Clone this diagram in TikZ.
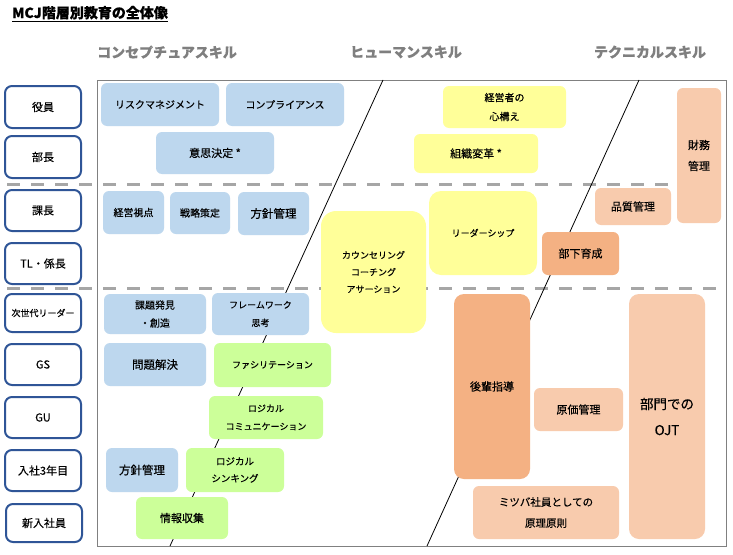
\documentclass[tikz,border=0pt]{standalone}
\usepackage{fontspec}
\setmainfont{Noto Sans CJK JP}[FakeBold=0.35]
\definecolor{cblue}{HTML}{BDD7EE}
\definecolor{cyel}{HTML}{FFFF99}
\definecolor{cgrn}{HTML}{CCFF99}
\definecolor{cpch}{HTML}{F8CBAD}
\definecolor{corg}{HTML}{F4B183}
\definecolor{lblblue}{HTML}{2F5597}
\definecolor{hdgray}{HTML}{7F7F7F}
\definecolor{dashgray}{HTML}{A6A6A6}
\definecolor{framegray}{HTML}{808080}
\tikzset{
  fs/.style 2 args={font=\fontsize{#1}{#2}\selectfont},
  bxbase/.style={rounded corners=6pt, align=center, inner sep=0pt, text=black},
  bblue/.style={bxbase, fill=cblue},
  bgrn/.style={bxbase, fill=cgrn},
  byel/.style={bxbase, fill=cyel},
  bpch/.style={bxbase, fill=cpch},
  borg/.style={bxbase, fill=corg},
  lbl/.style={draw=lblblue, line width=2pt, rounded corners=7pt, fill=white, align=center, inner sep=0pt, text=black},
  hdr/.style={text=hdgray, font=\fontsize{14}{16}\selectfont\bfseries, inner sep=0pt},
  sepline/.style={draw=dashgray, line width=3pt, dash pattern=on 13pt off 11pt},
  diag/.style={draw=black, line width=0.8pt},
}
\newcommand\mybox[7]{\node[#2, minimum width={(#5-#3)*1pt}, minimum height={(#6-#4)*1pt}] (#1) at ({(#3+#5)/2},{(#4+#6)/2}) {#7};}
\begin{document}
\begin{tikzpicture}[x=1pt,y=-1pt]
\useasboundingbox (0,0) rectangle (733,554);
\fill[white] (0,0) rectangle (733,554);
% title
\node[anchor=base west, inner sep=0pt, font=\fontsize{14}{16}\selectfont\bfseries] (title) at (12,18) {\underline{MCJ階層別教育の全体像}};
% headers
\node[hdr] (h1) at (167,52) {コンセプチュアスキル};
\node[hdr] (h2) at (406,52) {ヒューマンスキル};
\node[hdr] (h3) at (650,52) {テクニカルスキル};
% frame
\draw[framegray, line width=1pt] (97,80) rectangle (726,546);
% dashed separators
\coordinate (s1l) at (7,184); \coordinate (s1r) at (720,184);
\coordinate (s2l) at (7,288); \coordinate (s2r) at (720,288);
\draw[sepline] (s1l) -- (s1r);
\draw[sepline] (s2l) -- (s2r);
% diagonals
\coordinate (d1t) at (383,80); \coordinate (d1b) at (170,546);
\coordinate (d2t) at (639,80); \coordinate (d2b) at (427,546);
\draw[diag] (d1t) -- (d1b);
\draw[diag] (d2t) -- (d2b);
% level labels
\mybox{l1}{lbl, fs={11}{13}}{5}{86}{81}{128}{役員}
\mybox{l2}{lbl, fs={11}{13}}{5}{136}{81}{178}{部長}
\mybox{l3}{lbl, fs={11}{13}}{5}{190}{81}{231}{課長}
\mybox{l4}{lbl, fs={11}{13}}{5}{243}{81}{284}{TL・係長}
\mybox{l5}{lbl, fs={9}{11}}{5}{294}{81}{332}{次世代リーダー}
\mybox{l6}{lbl, fs={11}{13}}{5}{344}{81}{385}{GS}
\mybox{l7}{lbl, fs={11}{13}}{5}{397}{81}{438}{GU}
\mybox{l8}{lbl, fs={11}{13}}{5}{450}{81}{491}{入社3年目}
\mybox{l9}{lbl, fs={11}{13}}{6}{504}{82}{542}{新入社員}
% blue boxes
\mybox{b1}{bblue, fs={10}{12}}{101}{83}{219}{126}{リスクマネジメント}
\mybox{b2}{bblue, fs={10}{12}}{226}{83}{344}{126}{コンプライアンス}
\mybox{b3}{bblue, fs={11}{13}}{156}{132}{274}{174}{意思決定 *}
\mybox{b4}{bblue, fs={10}{12}}{103}{191}{164}{234}{経営視点}
\mybox{b5}{bblue, fs={10}{12}}{170}{192}{230}{234}{戦略策定}
\mybox{b6}{bblue, fs={11.5}{13}}{238}{192}{309}{235}{方針管理}
\mybox{b7}{bblue, fs={10}{18}}{104}{294}{206}{334}{課題発見\\・創造}
\mybox{b8}{bblue, fs={9}{18}}{212}{293}{309}{335}{フレームワーク\\思考}
\mybox{b9}{bblue, fs={11.5}{13}}{104}{343}{206}{386}{問題解決}
\mybox{b10}{bblue, fs={11.5}{13}}{106}{448}{178}{492}{方針管理}
% green boxes
\mybox{g1}{bgrn, fs={9}{11}}{214}{343}{331}{387}{ファシリテーション}
\mybox{g2}{bgrn, fs={9}{18}}{209}{396}{323}{439}{ロジカル\\コミュニケーション}
\mybox{g3}{bgrn, fs={9.5}{17}}{186}{448}{284}{492}{ロジカル\\シンキング}
\mybox{g4}{bgrn, fs={11}{13}}{136}{497}{228}{539}{情報収集}
% yellow boxes
\mybox{y1}{byel, fs={10}{19}}{443}{86}{566}{128}{経営者の\\心構え}
\mybox{y2}{byel, fs={11}{13}}{414}{134}{538}{173}{組織変革 *}
\mybox{y3}{byel, rounded corners=12pt, fs={9}{11}}{429}{191}{537}{275}{リーダーシップ}
\mybox{y4}{byel, rounded corners=15pt, fs={9}{17}}{321}{211}{426}{333}{カウンセリング\\コーチング\\アサーション}
% peach boxes
\mybox{p1}{bpch, fs={11}{21}}{677}{88}{721}{223}{財務\\管理}
\mybox{p2}{bpch, fs={11}{13}}{595}{188}{671}{225}{品質管理}
\mybox{p3}{bpch, fs={11}{13}}{534}{388}{623}{431}{原価管理}
\mybox{p4}{bpch, fs={10.5}{21}}{473}{486}{619}{539}{ミツバ社員としての\\原理原則}
\mybox{p5}{bpch, rounded corners=10pt, fs={13.5}{26}}{629}{294}{705}{539}{部門での\\OJT}
% orange boxes
\mybox{o1}{borg, fs={11}{13}}{542}{232}{619}{275}{部下育成}
\mybox{o2}{borg, rounded corners=10pt, fs={11}{13}}{454}{294}{530}{479}{後輩指導}
\end{tikzpicture}
\end{document}
